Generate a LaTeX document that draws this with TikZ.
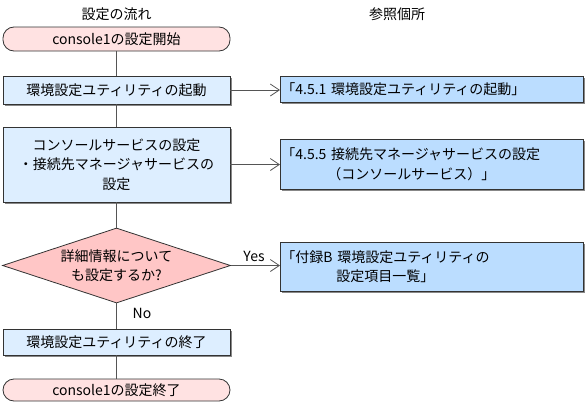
\documentclass[tikz,border=0pt]{standalone}
\usepackage{fontspec}
\setmainfont{Noto Sans CJK JP}
\usetikzlibrary{shapes.geometric,arrows.meta,shadows}
\definecolor{termfill}{HTML}{FFE2E2}
\definecolor{procfill}{HTML}{DDEEFF}
\definecolor{reffill}{HTML}{BBDDFF}
\definecolor{decfill}{HTML}{FFC6C6}
\definecolor{edgec}{HTML}{333333}
\definecolor{connc}{HTML}{555555}
\definecolor{shadowc}{HTML}{888888}
\begin{document}
\begin{tikzpicture}[x=1pt,y=1pt,
  font=\fontsize{14}{19.5}\selectfont,
  boxshadow/.style={drop shadow={shadow xshift=1.5pt,shadow yshift=-1.5pt,fill=shadowc,opacity=1}},
  terminal/.style={draw=edgec,fill=termfill,rounded corners=11pt,minimum width=227pt,inner sep=0pt,line width=0.8pt},
  process/.style={draw=edgec,fill=procfill,minimum width=227pt,inner sep=0pt,line width=0.8pt,align=center,boxshadow},
  refbox/.style={draw=edgec,fill=reffill,minimum width=303pt,text width=301pt,inner xsep=1pt,inner ysep=0pt,line width=0.8pt,align=left,anchor=west,boxshadow},
  decision/.style={diamond,aspect=3.04,draw=edgec,fill=decfill,minimum width=228pt,minimum height=75pt,inner sep=0pt,line width=0.8pt,align=center},
  conn/.style={draw=connc,line width=0.8pt},
  arr/.style={conn,-{Straight Barb[length=9pt,width=12pt,line width=0.8pt]}},
  lbl/.style={inner sep=0pt}
]
\useasboundingbox (0,0) rectangle (587,-407);

\node[lbl] (t1) at (116.5,-14) {設定の流れ};
\node[lbl] (t2) at (397,-14) {参照個所};

\node[terminal,minimum height=24pt] (start) at (116.5,-39) {console1の設定開始};
\node[process,minimum height=28pt] (b1) at (116.5,-90) {環境設定ユティリティの起動};
\node[process,minimum height=75pt] (b2) at (116.5,-164.5) {コンソールサービスの設定\\・接続先マネージャサービスの\\設定};
\node[decision] (dec) at (116.5,-265.5) {詳細情報について\\も設定するか?};
\node[process,minimum height=26pt] (b3) at (116.5,-342) {環境設定ユティリティの終了};
\node[terminal,minimum height=22pt] (end) at (116.5,-390) {console1の設定終了};

\node[refbox,minimum height=26pt] (r1) at (280,-89) {「4.5.1 環境設定ユティリティの起動」};
\node[refbox,minimum height=50pt] (r2) at (280,-164) {「4.5.5 接続先マネージャサービスの設定\\\hspace*{46pt}（コンソールサービス）」};
\node[refbox,minimum height=49pt] (r3) at (280,-266.5) {「付録B 環境設定ユティリティの\\\hspace*{55pt}設定項目一覧」};

\draw[conn] (start) -- (b1);
\draw[conn] (b1) -- (b2);
\draw[conn] (b2) -- (dec);
\draw[conn] (dec) -- (b3);
\draw[conn] (b3) -- (end);

\draw[arr] (b1.east) -- (b1.east -| r1.west);
\draw[arr] (b2.east) -- (b2.east -| r2.west);
\draw[arr] (dec.east) -- (dec.east -| r3.west);

\node[lbl] (yes) at (254,-256) {Yes};
\node[lbl] (no) at (142,-313) {No};
\end{tikzpicture}
\end{document}
